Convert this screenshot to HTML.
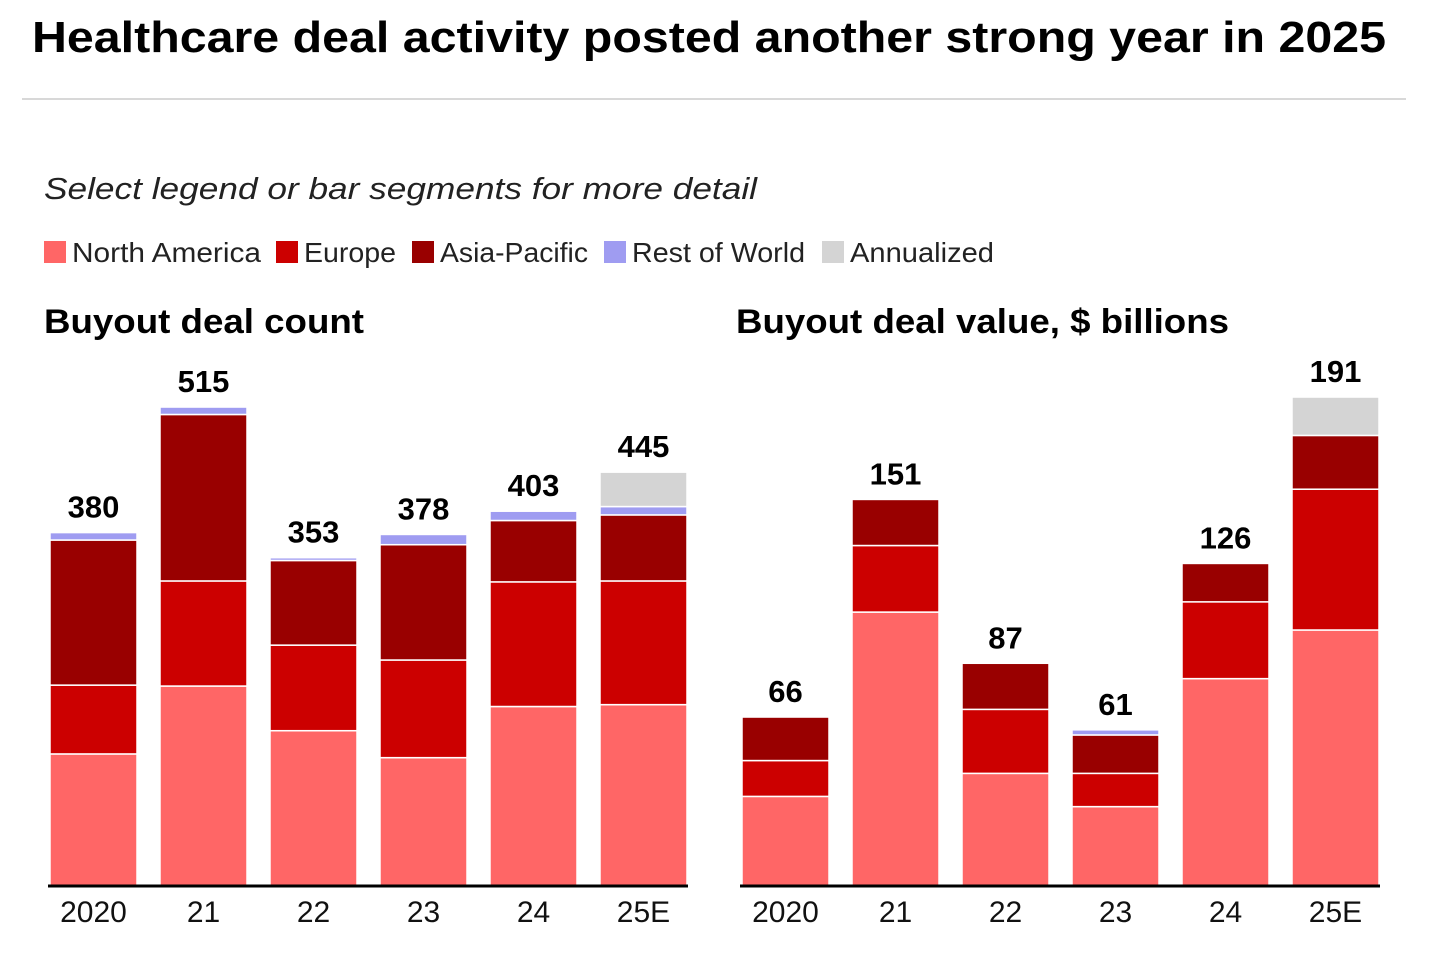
<!DOCTYPE html>
<html><head><meta charset="utf-8"><style>
body{margin:0;background:#fff;font-family:"Liberation Sans",sans-serif}
svg{display:block}
</style></head><body>
<svg id="c" width="1438" height="972">
<text x="32" y="52" font-size="44" font-weight="bold" fill="#000" textLength="1354" lengthAdjust="spacingAndGlyphs">Healthcare deal activity posted another strong year in 2025</text>
<line x1="22" y1="99" x2="1406" y2="99" stroke="#d8d8d8" stroke-width="2"/>
<text x="44" y="199" font-size="31" font-style="italic" fill="#222" textLength="713" lengthAdjust="spacingAndGlyphs">Select legend or bar segments for more detail</text>
<g id="legend"></g>
<text x="44" y="333" font-size="34" font-weight="bold" textLength="320" lengthAdjust="spacingAndGlyphs">Buyout deal count</text>
<text x="736" y="333" font-size="34" font-weight="bold" textLength="493" lengthAdjust="spacingAndGlyphs">Buyout deal value, $ billions</text>
</svg>
<script>
const categories=["2020","21","22","23","24","25E"];
const countNA=[142,215,167,138,193,195];
const countEU=[74,113,92,105,134,133];
const countAP=[156,179,91,124,66,71];
const countRW=[8,8,3,11,10,9];
const countAN=[0,0,0,0,0,37];
const countTotals=[380,515,353,378,403,445];
const valueNA=[35,107,44,31,81,100];
const valueEU=[14,26,25,13,30,55];
const valueAP=[17,18,18,15,15,21];
const valueRW=[0,0,0,2,0,0];
const valueAN=[0,0,0,0,0,15];
const valueTotals=[66,151,87,61,126,191];
const colors=["#ff6666","#cc0000","#990000","#9f9cf1","#d4d4d4"];
const legendNames=["North America","Europe","Asia-Pacific","Rest of World","Annualized"];
const svg=document.getElementById('c');
const NS="http://www.w3.org/2000/svg";
function mk(t,a){const e=document.createElementNS(NS,t);for(const k in a)e.setAttribute(k,a[k]);return e;}
const lg=document.getElementById('legend');
const lx=[44,276,412,604,822];
const lw=[189,92,148,173,144];
legendNames.forEach((n,i)=>{
  const r=mk('rect',{x:lx[i],y:241,width:22,height:22,fill:colors[i]});
  
  
  lg.appendChild(r);
  const t=mk('text',{x:lx[i]+28,y:262,'font-size':28,fill:'#222',textLength:lw[i],lengthAdjust:'spacingAndGlyphs'});t.textContent=n;
  
  
  lg.appendChild(t);
});
function panel(x0,scale,series,totals,key){
  const base=886;
  const y=v=>v*scale;
  const xb=i=>x0+2+i*110;
  categories.forEach((c,i)=>{
    let cum=0;
    series.forEach((s,k)=>{
      const v=s[i]; if(!v)return;
      const h=y(v);
      const r=mk('rect',{x:xb(i),y:base-y(cum)-h,width:87,height:h,fill:colors[k],stroke:'#fff','stroke-width':1.5});
      
      
      svg.appendChild(r);
      cum+=v;
    });
    const t=mk('text',{x:xb(i)+43.5,y:base-y(cum)-15,'font-size':31,'font-weight':'bold','text-anchor':'middle'});
    t.textContent=totals[i];
    
    
    svg.appendChild(t);
    const l=mk('text',{x:xb(i)+43.5,y:922,'font-size':30,'text-anchor':'middle',fill:'#111'});
    l.textContent=c;
    
    
    svg.appendChild(l);
  });
  const ax=mk('line',{x1:x0,y1:base,x2:x0+640,y2:base,stroke:'#000','stroke-width':3});
  
  
  svg.appendChild(ax);
}
panel(48,0.93,[countNA,countEU,countAP,countRW,countAN],countTotals,'count');
panel(740,2.56,[valueNA,valueEU,valueAP,valueRW,valueAN],valueTotals,'value');
</script>
</body></html>
